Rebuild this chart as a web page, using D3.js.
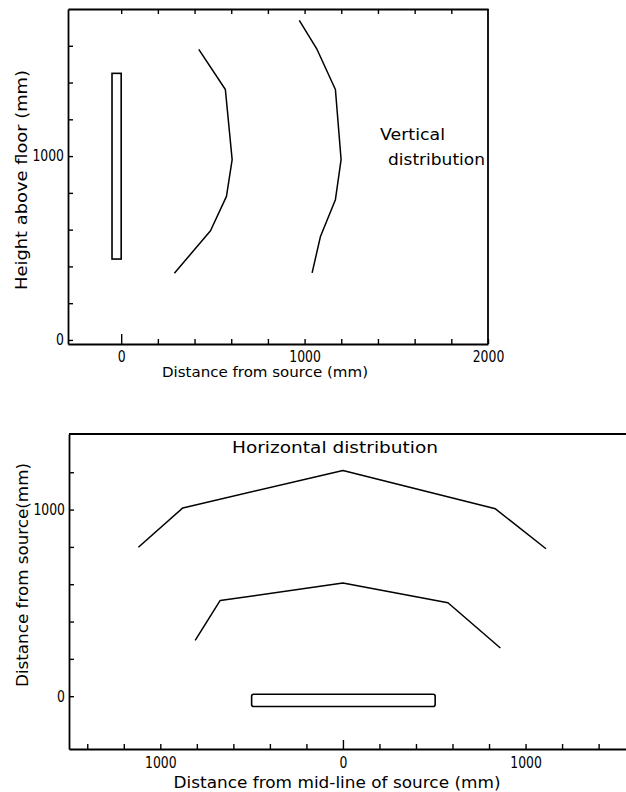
<!DOCTYPE html>
<html>
<head>
<meta charset="utf-8">
<script src="https://cdn.jsdelivr.net/npm/d3@7"></script>
<style>
body { margin: 0; background: #fff; }
svg text { font-family: "DejaVu Sans", sans-serif; fill: #000; }
.frame path.domain, .frame line { stroke: #000; stroke-width: 1.8px; }
.frame .tick line { stroke-width: 1.4px; }
.curve { fill: none; stroke: #000; stroke-width: 1.5px; stroke-linejoin: round; }
.source { fill: #fff; stroke: #000; stroke-width: 1.6px; }
</style>
</head>
<body>
<svg id="chart" width="626" height="792"></svg>
<script>
// ---- top panel: vertical distribution ----
const vertTicksX = [0, 200, 400, 600, 800, 1000, 1200, 1400, 1600, 1800, 2000];
const vertLabelsX = [0, 1000, 2000];
const vertTicksY = [0, 200, 400, 600, 800, 1000, 1200, 1400, 1600];
const vertLabelsY = [0, 1000];
const vertSourceX = [-50, 0];
const vertSourceY = [440, 1450];
const vertInnerX = [423, 568, 605, 574, 487, 290];
const vertInnerY = [1580, 1362, 981, 781, 594, 363];
const vertOuterX = [971, 1068, 1168, 1199, 1168, 1086, 1041];
const vertOuterY = [1738, 1580, 1362, 981, 763, 561, 365];

// ---- bottom panel: horizontal distribution ----
const horizTicksX = [-1400, -1200, -1000, -800, -600, -400, -200, 0, 200, 400, 600, 800, 1000, 1200, 1400];
const horizLabelsX = [-1000, 0, 1000];
const horizTicksY = [0, 200, 400, 600, 800, 1000, 1200];
const horizLabelsY = [0, 1000];
const horizSourceX = [-500, 505];
const horizSourceY = [-55, 10];
const horizInnerX = [-809, -672, 0, 575, 862];
const horizInnerY = [299, 513, 606, 501, 258];
const horizOuterX = [-1120, -877, 0, 835, 1112];
const horizOuterY = [798, 1009, 1209, 1004, 790];

let svg = d3.select("#chart");

// squeeze label text so it looks like the narrow stencil type of the original
function fitText(sel, perChar) {
    sel.attr("textLength", function () { return this.textContent.length * perChar; })
        .attr("lengthAdjust", "spacingAndGlyphs");
}

function drawCurve(g, x, y, xs, ys) {
    let pts = xs.map((d, i) => [d, ys[i]]);
    g.append("path")
        .datum(pts)
        .attr("class", "curve")
        .attr("d", d3.line().x(d => x(d[0])).y(d => y(d[1])));
}

/////////////////////////// TOP PANEL ///////////////////////////
let x1 = d3.scaleLinear().domain([-290, 2000]).range([68, 488]);
let y1 = d3.scaleLinear().domain([-22, 1800]).range([344, 9]);
let vPanel = svg.append("g");

// bottom axis, ticks point up into the plot
let xb1 = vPanel.append("g").attr("class", "frame")
    .attr("transform", "translate(0," + y1.range()[0] + ")")
    .call(d3.axisBottom(x1).tickValues(vertTicksX).tickSizeInner(-5).tickSizeOuter(0).tickPadding(7)
        .tickFormat(d => vertLabelsX.includes(d) ? d : ""));
xb1.selectAll(".tick").filter(d => d === 0).select("line").attr("y2", -10);

// top border with ticks pointing down
vPanel.append("g").attr("class", "frame")
    .attr("transform", "translate(0," + y1.range()[1] + ")")
    .call(d3.axisTop(x1).tickValues(vertTicksX.slice(0, -1)).tickSizeInner(-5).tickSizeOuter(0).tickFormat(""));

// left axis
vPanel.append("g").attr("class", "frame")
    .attr("transform", "translate(" + x1.range()[0] + ",0)")
    .call(d3.axisLeft(y1).tickValues(vertTicksY).tickSizeInner(-5).tickSizeOuter(0).tickPadding(4)
        .tickFormat(d => vertLabelsY.includes(d) ? d : ""));

// right border
vPanel.append("line")
    .attr("x1", x1.range()[1]).attr("x2", x1.range()[1])
    .attr("y1", y1.range()[0]).attr("y2", y1.range()[1])
    .attr("stroke", "#000").attr("stroke-width", 1.8);

vPanel.selectAll(".frame text").attr("font-size", 15).attr("font-family", "DejaVu Sans");
vPanel.selectAll(".frame text").filter(function () { return this.textContent !== ""; })
    .call(fitText, 7.9);

// source (tall lamp)
vPanel.append("rect").attr("class", "source")
    .attr("x", x1(vertSourceX[0])).attr("width", x1(vertSourceX[1]) - x1(vertSourceX[0]))
    .attr("y", y1(vertSourceY[1])).attr("height", y1(vertSourceY[0]) - y1(vertSourceY[1]));

drawCurve(vPanel, x1, y1, vertInnerX, vertInnerY);
drawCurve(vPanel, x1, y1, vertOuterX, vertOuterY);

vPanel.append("text").attr("x", 380).attr("y", 140).attr("font-size", 15)
    .text("Vertical").attr("textLength", 65).attr("lengthAdjust", "spacingAndGlyphs");
vPanel.append("text").attr("x", 388).attr("y", 165).attr("font-size", 15)
    .text("distribution").attr("textLength", 97).attr("lengthAdjust", "spacingAndGlyphs");

vPanel.append("text").attr("x", 265).attr("y", 377).attr("text-anchor", "middle").attr("font-size", 14)
    .text("Distance from source (mm)").attr("textLength", 206).attr("lengthAdjust", "spacingAndGlyphs");
vPanel.append("text").attr("transform", "translate(27,180) rotate(-90)").attr("text-anchor", "middle")
    .attr("font-size", 15)
    .text("Height above floor (mm)").attr("textLength", 220).attr("lengthAdjust", "spacingAndGlyphs");

/////////////////////////// BOTTOM PANEL ///////////////////////////
let x2 = d3.scaleLinear().domain([-1500, 1550]).range([69, 626]);
let y2 = d3.scaleLinear().domain([-283, 1405]).range([749, 434]);
let hPanel = svg.append("g");

let xb2 = hPanel.append("g").attr("class", "frame")
    .attr("transform", "translate(0," + y2.range()[0] + ")")
    .call(d3.axisBottom(x2).tickValues(horizTicksX).tickSizeInner(-5).tickSizeOuter(0).tickPadding(8)
        .tickFormat(d => horizLabelsX.includes(d) ? Math.abs(d) : ""));
xb2.selectAll(".tick").filter(d => d === 0).select("line").attr("y2", -9);

hPanel.append("g").attr("class", "frame")
    .attr("transform", "translate(" + x2.range()[0] + ",0)")
    .call(d3.axisLeft(y2).tickValues(horizTicksY).tickSizeInner(-5).tickSizeOuter(0).tickPadding(4)
        .tickFormat(d => horizLabelsY.includes(d) ? d : ""));

// top border, runs off the right edge like the original
hPanel.append("line")
    .attr("x1", x2.range()[0]).attr("x2", x2.range()[1])
    .attr("y1", y2.range()[1]).attr("y2", y2.range()[1])
    .attr("stroke", "#000").attr("stroke-width", 1.8);

hPanel.selectAll(".frame text").attr("font-size", 15).attr("font-family", "DejaVu Sans");
hPanel.selectAll(".frame text").filter(function () { return this.textContent !== ""; })
    .call(fitText, 7.9);

// source (horizontal lamp)
hPanel.append("rect").attr("class", "source")
    .attr("x", x2(horizSourceX[0])).attr("width", x2(horizSourceX[1]) - x2(horizSourceX[0]))
    .attr("y", y2(horizSourceY[1])).attr("height", y2(horizSourceY[0]) - y2(horizSourceY[1]))
    .attr("rx", 2);

drawCurve(hPanel, x2, y2, horizInnerX, horizInnerY);
drawCurve(hPanel, x2, y2, horizOuterX, horizOuterY);

hPanel.append("text").attr("x", 335).attr("y", 453).attr("text-anchor", "middle").attr("font-size", 15)
    .text("Horizontal distribution").attr("textLength", 206).attr("lengthAdjust", "spacingAndGlyphs");

hPanel.append("text").attr("x", 337).attr("y", 788).attr("text-anchor", "middle").attr("font-size", 15)
    .text("Distance from mid-line of source (mm)").attr("textLength", 327).attr("lengthAdjust", "spacingAndGlyphs");
hPanel.append("text").attr("transform", "translate(28,575) rotate(-90)").attr("text-anchor", "middle")
    .attr("font-size", 15)
    .text("Distance from source(mm)").attr("textLength", 224).attr("lengthAdjust", "spacingAndGlyphs");
</script>
</body>
</html>
